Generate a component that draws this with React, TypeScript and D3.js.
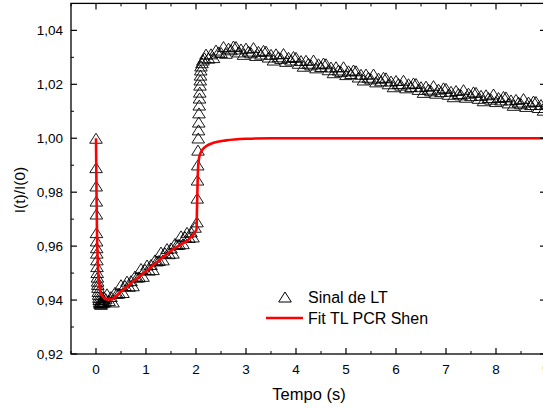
import React from "react";
import * as d3 from "d3";

// ---- Data ----
// initial drop right after t = 0
const dropTime = [0, 0.002, 0.004, 0.006, 0.008, 0.01, 0.012, 0.014, 0.016, 0.018, 0.02, 0.024, 0.028, 0.032, 0.036, 0.04, 0.046, 0.052, 0.058, 0.065, 0.072, 0.08, 0.09, 0.1, 0.11, 0.12, 0.135, 0.15, 0.165, 0.18, 0.195];
const dropValue = [1.0, 0.9891, 0.9823, 0.9767, 0.9719, 0.965, 0.9619, 0.9594, 0.9574, 0.9549, 0.9524, 0.9502, 0.9485, 0.947, 0.9458, 0.9447, 0.9432, 0.9421, 0.941, 0.9402, 0.9394, 0.9388, 0.9391, 0.9384, 0.9396, 0.9389, 0.9401, 0.9392, 0.941, 0.9395, 0.9405];

// slow rise, sampled every 0.04 s from t = 0.22
const riseStart = 0.22;
const riseStep = 0.04;
const riseValue = [0.9423, 0.9398, 0.9413, 0.9393, 0.9429, 0.9425, 0.9426, 0.9457, 0.9428, 0.9454, 0.947, 0.9451, 0.9472, 0.9453, 0.9489, 0.9485, 0.9486, 0.9517, 0.9488, 0.9514, 0.953, 0.9511, 0.9532, 0.9513, 0.9549, 0.9545, 0.9547, 0.9578, 0.9549, 0.9575, 0.9591, 0.9572, 0.9593, 0.9574, 0.961, 0.9606, 0.9607, 0.9638, 0.9609, 0.9635, 0.9651, 0.9632, 0.9653, 0.9634, 0.967];

// fast jump near t = 2 s
const jumpTime = [2.02, 2.025, 2.03, 2.035, 2.04, 2.045, 2.05, 2.055, 2.06, 2.065, 2.07, 2.075, 2.08, 2.085, 2.09, 2.095, 2.1, 2.12, 2.14, 2.17];
const jumpValue = [0.969, 0.9778, 0.9845, 0.9901, 0.9956, 1.0001, 1.0031, 1.006, 1.0094, 1.0123, 1.0149, 1.0171, 1.0197, 1.0216, 1.0234, 1.0253, 1.0268, 1.028, 1.029, 1.0298];

// plateau and slow decay, sampled every 0.05 s from t = 2.20
const plateauStart = 2.2;
const plateauStep = 0.05;
const plateauValue = [
  1.0312, 1.0297, 1.0313, 1.0299, 1.0327, 1.032, 1.0318, 1.034, 1.0315, 1.0334, 1.0328, 1.0342,
  1.034, 1.032, 1.0331, 1.0311, 1.0334, 1.0323, 1.0317, 1.0336, 1.0307, 1.0322, 1.0312, 1.0326,
  1.0323, 1.0301, 1.0311, 1.029, 1.0313, 1.0302, 1.0296, 1.0314, 1.0285, 1.03, 1.029, 1.0303,
  1.03, 1.0278, 1.0288, 1.0267, 1.0289, 1.0278, 1.0272, 1.029, 1.0261, 1.0276, 1.0266, 1.0279,
  1.0276, 1.0254, 1.0264, 1.0243, 1.0265, 1.0253, 1.0247, 1.0265, 1.0236, 1.025, 1.024, 1.0253,
  1.025, 1.0227, 1.0237, 1.0216, 1.0238, 1.0226, 1.022, 1.0238, 1.0209, 1.0223, 1.0213, 1.0226,
  1.0224, 1.0202, 1.0212, 1.0191, 1.0214, 1.0203, 1.0197, 1.0215, 1.0187, 1.0202, 1.0192, 1.0205,
  1.0203, 1.0181, 1.0191, 1.017, 1.0193, 1.0182, 1.0176, 1.0195, 1.0167, 1.0182, 1.0173, 1.0187,
  1.0185, 1.0163, 1.0174, 1.0154, 1.0177, 1.0166, 1.0161, 1.018, 1.0152, 1.0167, 1.0158, 1.0172,
  1.017, 1.0148, 1.0159, 1.0139, 1.0161, 1.0151, 1.0145, 1.0164, 1.0136, 1.0151, 1.0142, 1.0155,
  1.0153, 1.0131, 1.0142, 1.0122, 1.0144, 1.0134, 1.0128, 1.0147, 1.0118, 1.0134, 1.0125, 1.0138,
  1.0136, 1.0114, 1.0125, 1.0104, 1.0127,
];

// fitted curve (Fit TL PCR Shen)
const fitTime = [0, 0.005, 0.01, 0.015, 0.02, 0.03, 0.04, 0.05, 0.07, 0.09, 0.12, 0.16, 0.2, 0.25, 0.31, 0.5, 1.0, 1.5, 2.01, 2.02, 2.03, 2.04, 2.06, 2.09, 2.14, 2.2, 2.35, 2.6, 3.0, 3.5, 9.0];
const fitValue = [1.0, 0.99, 0.98, 0.972, 0.965, 0.957, 0.952, 0.9485, 0.945, 0.943, 0.9417, 0.9408, 0.9404, 0.9402, 0.9403, 0.9432, 0.9507, 0.9583, 0.966, 0.974, 0.982, 0.9885, 0.9925, 0.9945, 0.996, 0.997, 0.9983, 0.9992, 0.9998, 1.0, 1.0];

const xTicks = [0, 1, 2, 3, 4, 5, 6, 7, 8, 9];
const yTicks = [0.92, 0.94, 0.96, 0.98, 1.0, 1.02, 1.04];
const legendLabels = ["Sinal de LT", "Fit TL PCR Shen"];
const xTitle = "Tempo (s)";
const yTitle = "I(t)/I(0)";

const W = 543;
const H = 409;
const FONT = "'Liberation Sans', Arial, sans-serif";

export default function App() {
  const x = d3.scaleLinear().domain([-0.5, 9.0]).range([71, 546]);
  const y = d3.scaleLinear().domain([0.92, 1.05]).range([354, 3.4]);

  const points: [number, number][] = [];
  dropTime.forEach((t, i) => points.push([t, dropValue[i]]));
  riseValue.forEach((v, i) => points.push([riseStart + i * riseStep, v]));
  jumpTime.forEach((t, i) => points.push([t, jumpValue[i]]));
  plateauValue.forEach((v, i) => points.push([plateauStart + i * plateauStep, v]));

  const fitLine = d3
    .line<number>()
    .x((_, i) => x(fitTime[i]))
    .y((v) => y(v))
    .curve(d3.curveMonotoneX);

  const tri = "M0,-5 L6.3,5 L-6.3,5 Z";
  const fmt = (v: number) => d3.format(".2f")(v).replace(".", ",");

  const [x0, x1] = x.range();
  const [y0, y1] = y.range();
  const xMinor = d3.range(-0.5, 9.01, 0.5).filter((v) => !xTicks.includes(v));
  const yMinor = d3.range(0.93, 1.05, 0.02);

  return (
    <svg width={W} height={H} style={{ position: "absolute", left: 0, top: 0, background: "#fff" }} fontFamily={FONT}>
      <rect x={0} y={0} width={W} height={H} fill="#fff" />
      {/* markers */}
      <g>
        {points.map(([t, v], i) => (
          <path key={i} d={tri} transform={`translate(${x(t)},${y(v)})`} fill="none" stroke="#000" strokeWidth={0.9} />
        ))}
      </g>
      {/* fit */}
      <path d={fitLine(fitValue) || ""} fill="none" stroke="#ff0000" strokeWidth={2.6} />

      {/* frame */}
      <rect x={x0} y={y1} width={x1 - x0} height={y0 - y1} fill="none" stroke="#000" strokeWidth={1.3} />

      {/* x ticks */}
      {xTicks.map((t) => (
        <g key={"xt" + t}>
          <line x1={x(t)} x2={x(t)} y1={y0} y2={y0 - 6} stroke="#000" strokeWidth={1.2} />
          <line x1={x(t)} x2={x(t)} y1={y1} y2={y1 + 6} stroke="#000" strokeWidth={1.2} />
          <text x={x(t)} y={374} textAnchor="middle" fontSize={13.5}>
            {t}
          </text>
        </g>
      ))}
      {xMinor.map((t) => (
        <g key={"xm" + t}>
          <line x1={x(t)} x2={x(t)} y1={y0} y2={y0 - 3} stroke="#000" strokeWidth={1} />
          <line x1={x(t)} x2={x(t)} y1={y1} y2={y1 + 3} stroke="#000" strokeWidth={1} />
        </g>
      ))}
      {/* y ticks */}
      {yTicks.map((v) => (
        <g key={"yt" + v}>
          <line x1={x0} x2={x0 + 6} y1={y(v)} y2={y(v)} stroke="#000" strokeWidth={1.2} />
          <line x1={x1} x2={x1 - 6} y1={y(v)} y2={y(v)} stroke="#000" strokeWidth={1.2} />
          <text x={63} y={y(v) + 5} textAnchor="end" fontSize={13.5}>
            {fmt(v)}
          </text>
        </g>
      ))}
      {yMinor.map((v) => (
        <g key={"ym" + v}>
          <line x1={x0} x2={x0 + 3} y1={y(v)} y2={y(v)} stroke="#000" strokeWidth={1} />
          <line x1={x1} x2={x1 - 3} y1={y(v)} y2={y(v)} stroke="#000" strokeWidth={1} />
        </g>
      ))}

      {/* titles */}
      <text x={309} y={400} textAnchor="middle" fontSize={16.5}>
        {xTitle}
      </text>
      <text transform="translate(25,190) rotate(-90)" textAnchor="middle" fontSize={15.5}>
        {yTitle}
      </text>

      {/* legend */}
      <path d={tri} transform="translate(285,297)" fill="none" stroke="#000" strokeWidth={1} />
      <text x={308} y={303} fontSize={16}>
        {legendLabels[0]}
      </text>
      <line x1={266} x2={303} y1={318} y2={318} stroke="#ff0000" strokeWidth={2.6} />
      <text x={308} y={323.5} fontSize={16}>
        {legendLabels[1]}
      </text>
    </svg>
  );
}
